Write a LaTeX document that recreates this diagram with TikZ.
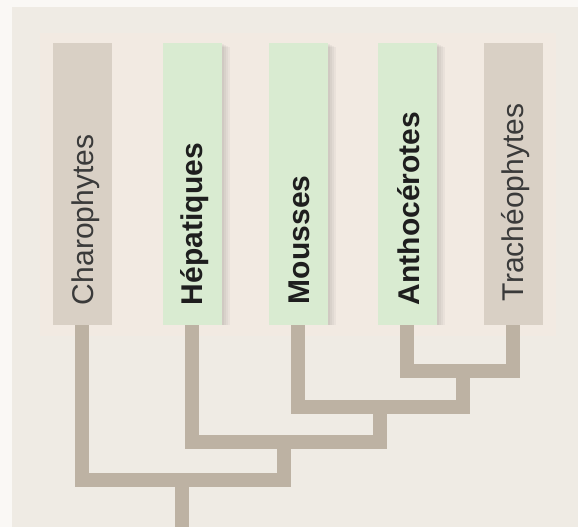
\documentclass[tikz,border=0pt]{standalone}
\usepackage{fontspec}
\setmainfont{Liberation Sans}
\definecolor{outerbg}{HTML}{FAF8F5}
\definecolor{panelbg}{HTML}{EFEBE4}
\definecolor{colbg}{HTML}{F2EAE2}
\definecolor{brownbox}{HTML}{D9D0C5}
\definecolor{greenbox}{HTML}{D9EBD1}
\definecolor{conncol}{HTML}{BDB2A3}
\definecolor{txtgrey}{HTML}{3A3A3A}
\definecolor{txtdark}{HTML}{1E1E1E}
\begin{document}
\begin{tikzpicture}[x=1pt,y=-1pt,
  taxbox/.style={rectangle, draw=none, inner sep=0pt, minimum width=59pt, minimum height=282pt},
  brownbx/.style={taxbox, fill=brownbox},
  greenbx/.style={taxbox, fill=greenbox},
  lab/.style={rotate=90, anchor=base west, inner sep=0pt, font=\fontsize{30}{36}\selectfont},
  labn/.style={lab, text=txtgrey},
  labb/.style={lab, text=txtdark, font=\fontsize{30}{36}\selectfont\bfseries},
  conn/.style={draw=conncol, line width=14pt, line cap=butt, line join=miter},
  shadowbx/.style={fill=black, opacity=0.035, draw=none}
]
\useasboundingbox (0,0) rectangle (578,527);
\fill[outerbg] (0,0) rectangle (578,527);
\fill[panelbg] (12,7) rectangle (578,527);
\fill[colbg] (40,33) rectangle (556,336);
% soft shadows to the right of the green boxes
\foreach \cx in {192,298,407}{
  \foreach \s in {2,4,6,8}{
    \fill[shadowbx] (\cx-29.5+\s,43+\s/2) rectangle (\cx+29.5+\s,325);
  }
}
% boxes
\node[brownbx] (charo) at (82,184) {};
\node[greenbx] (hep) at (192,184) {};
\node[greenbx] (mous) at (298,184) {};
\node[greenbx] (antho) at (407,184) {};
\node[brownbx] (trach) at (513,184) {};
% labels
\node[labn] (charoT) at ([xshift=11pt,yshift=20pt]charo.south) {Charophytes};
\node[labb] (hepT) at ([xshift=10pt,yshift=20pt]hep.south) {Hépatiques};
\node[labb] (mousT) at ([xshift=11pt,yshift=21pt]mous.south) {Mousses};
\node[labb] (anthoT) at ([xshift=12pt,yshift=20pt]antho.south) {Anthocérotes};
\node[labn] (trachT) at ([xshift=10pt,yshift=24pt]trach.south) {Trachéophytes};
% clade points
\coordinate (n4) at (463,371);
\coordinate (n3) at (380,407);
\coordinate (n2) at (284,442);
\coordinate (n1) at (182,480);
\coordinate (root) at (182,527);
% connectors
\draw[conn] (antho.south) |- (n4) -| (trach.south);
\draw[conn] (mous.south) |- (n3) -| (n4);
\draw[conn] (hep.south) |- (n2) -| (n3);
\draw[conn] (charo.south) |- (n1) -| (n2);
\draw[conn] (n1) -- (root);
\end{tikzpicture}
\end{document}
